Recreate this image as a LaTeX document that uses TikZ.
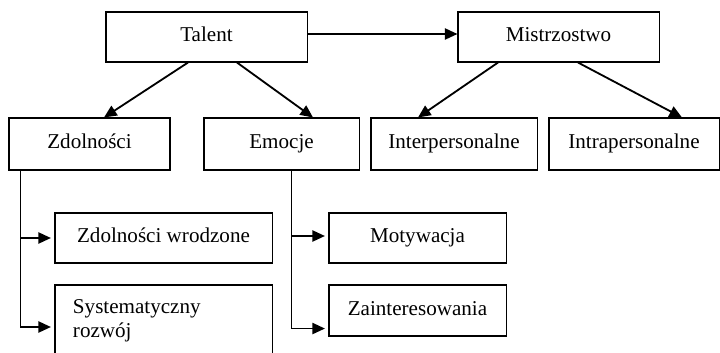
\documentclass[tikz,border=0pt]{standalone}
\usepackage{fontspec}
\setmainfont{Liberation Serif}
\usetikzlibrary{calc,arrows.meta}

\tikzset{
  box/.style={draw, line width=0.75pt, inner sep=0pt, text height=10pt, text depth=3.5pt, font=\fontsize{15}{17}\selectfont},
  arr/.style={line width=1.3pt, -{Triangle[length=9pt,width=8pt]}}
}

\begin{document}
\begin{tikzpicture}[x=0.025cm,y=-0.025cm,line join=miter]
  \useasboundingbox (0,0) rectangle (720,353);
  % gora
  \node[box, minimum width=5.025cm, minimum height=1.25cm] (talent) at (206.5,37) {Talent};
  \node[box, minimum width=5.025cm, minimum height=1.25cm] (mistrz) at (558.5,37) {Mistrzostwo};
  % drugi poziom
  \node[box, minimum width=4.025cm, minimum height=1.3cm] (zdol) at (89.5,144) {Zdolności};
  \node[box, minimum width=3.875cm, minimum height=1.3cm] (emocje) at (281.5,144) {Emocje};
  \node[box, minimum width=4.15cm, minimum height=1.3cm] (inter) at (454,144) {Interpersonalne};
  \node[box, minimum width=4.25cm, minimum height=1.3cm] (intra) at (634,144) {Intrapersonalne};
  % trzeci poziom
  \node[box, text height=, text depth=, text width=4.525cm, inner xsep=0.45cm, minimum height=1.8cm, align=left] (system) at (163.5,321) {Systematyczny\\rozwój};
  \node[box, minimum width=5.425cm, minimum height=1.25cm] (wrodz) at (163.5,238) {Zdolności wrodzone};
  \node[box, minimum width=4.425cm, minimum height=1.25cm] (motyw) at (417.5,238) {Motywacja};
  \node[box, minimum width=4.425cm, minimum height=1.275cm] (zaint) at (417.5,310.5) {Zainteresowania};
  % strzalki
  \draw[arr] ($(talent.east)+(0,-3)$) -- ($(mistrz.west)+(0,-3)$);
  \draw[arr] ($(talent.south)+(-18.5,0)$) -- ($(zdol.north)+(14.5,0)$);
  \draw[arr] ($(talent.south)+(30.5,0)$) -- ($(emocje.north)+(31.5,0)$);
  \draw[arr] ($(mistrz.south)+(-60.5,0)$) -- ($(inter.north)+(-36,0)$);
  \draw[arr] ($(mistrz.south)+(19.5,0)$) -- ($(intra.north)+(48,0)$);
  % galezie
  \coordinate (zspine) at ($(zdol.south west)+(12,0)$);
  \coordinate (espine) at ($(emocje.south west)+(88,0)$);
  \draw[arr, shorten >=2.5pt] (zspine) |- (wrodz.west);
  \draw[arr, shorten >=2.5pt] (zspine) |- ($(system.west)+(0,6)$);
  \draw[arr, shorten >=2.5pt] (espine) |- ($(motyw.west)+(0,-2)$);
  \draw[arr, shorten >=2.5pt] (espine) |- ($(zaint.south west)+(0,-8)$);
\end{tikzpicture}
\end{document}
